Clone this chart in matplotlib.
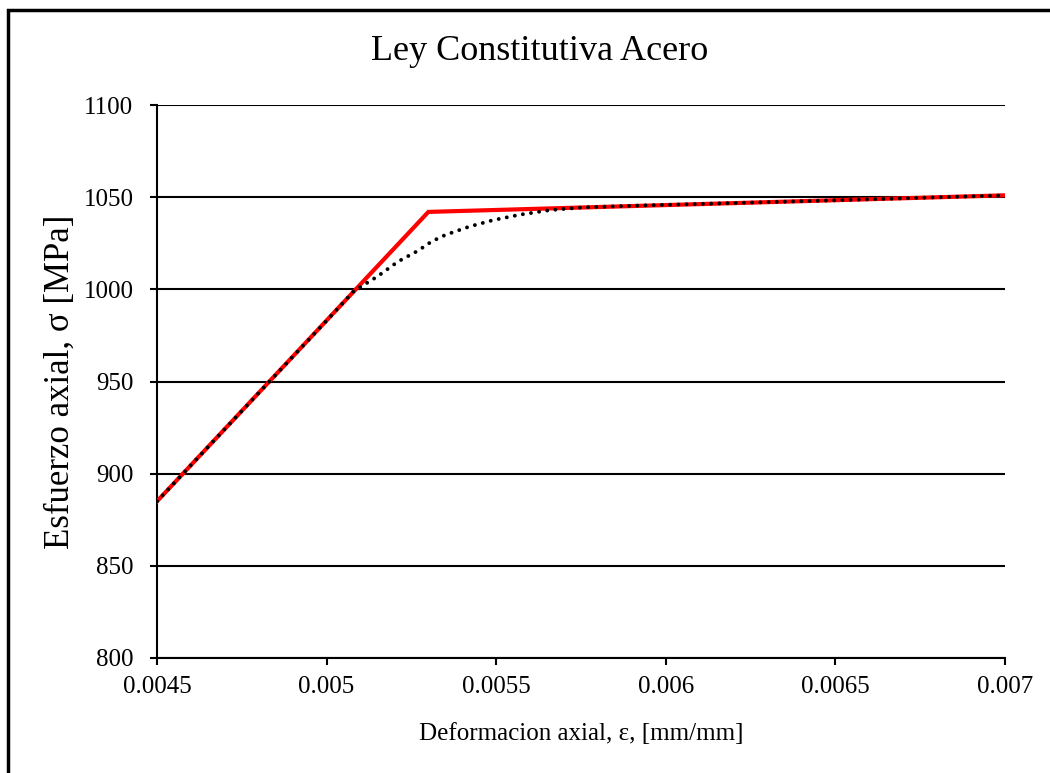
import matplotlib.pyplot as plt
from matplotlib.patches import Rectangle

# ley bilineal (roja)
eps_bil = [0.0045, 0.0053, 0.007]
sig_bil = [885, 1042, 1051]

# curva suavizada (punteada negra)
eps_curva = [0.0045, 0.0050, 0.00508, 0.00515, 0.00521, 0.00527, 0.00531, 0.00535,
             0.00542, 0.00549, 0.00557, 0.00566, 0.00576, 0.00595, 0.0065, 0.007]
sig_curva = [885, 983, 999, 1007, 1015, 1021, 1026, 1029.5,
             1034, 1037.5, 1040.5, 1043, 1044.5, 1045.6, 1048.3, 1051]

plt.rcParams['font.family'] = ['Liberation Serif', 'DejaVu Serif']

fig = plt.figure(figsize=(10.5, 7.73), dpi=100)
ax = fig.add_axes([157/1050, 1 - 658/773, 848/1050, 553/773])

ax.plot(eps_bil, sig_bil, color='red', lw=3, solid_joinstyle='miter', zorder=3)
ax.plot(eps_curva, sig_curva, color='black', lw=2.8, linestyle=(0, (0.01, 2.1)),
        dash_capstyle='round', zorder=4)

ax.set_xlim(0.0045, 0.007)
ax.set_ylim(800, 1100)
ax.set_xticks([0.0045, 0.005, 0.0055, 0.006, 0.0065, 0.007])
ax.set_xticklabels(['0.0045', '0.005', '0.0055', '0.006', '0.0065', '0.007'])
ax.set_yticks(range(800, 1101, 50))
ax.yaxis.grid(True, color='black', lw=1.5)
ax.set_axisbelow(True)
for s in ['top', 'right']:
    ax.spines[s].set_visible(False)
for s in ['left', 'bottom']:
    ax.spines[s].set_linewidth(1.5)
ax.tick_params(direction='out', length=5, width=1.5, labelsize=18)
ax.tick_params(axis='y', pad=12)
ax.tick_params(axis='x', pad=8)

ax.set_xlabel('Deformacion axial, ε, [mm/mm]', fontsize=18, labelpad=18)
ax.set_ylabel('Esfuerzo axial, σ [MPa]', fontsize=25, labelpad=5)
fig.text(540/1050, 1 - 52/773, 'Ley Constitutiva Acero', fontsize=26,
         ha='center', va='center')

fig.patches.append(Rectangle((7.5/1050, -0.1), 1.2, 1 - 9.5/773 + 0.1,
                             transform=fig.transFigure, fill=False,
                             edgecolor='black', lw=2.5))

fig.savefig('out.png', dpi=100)
